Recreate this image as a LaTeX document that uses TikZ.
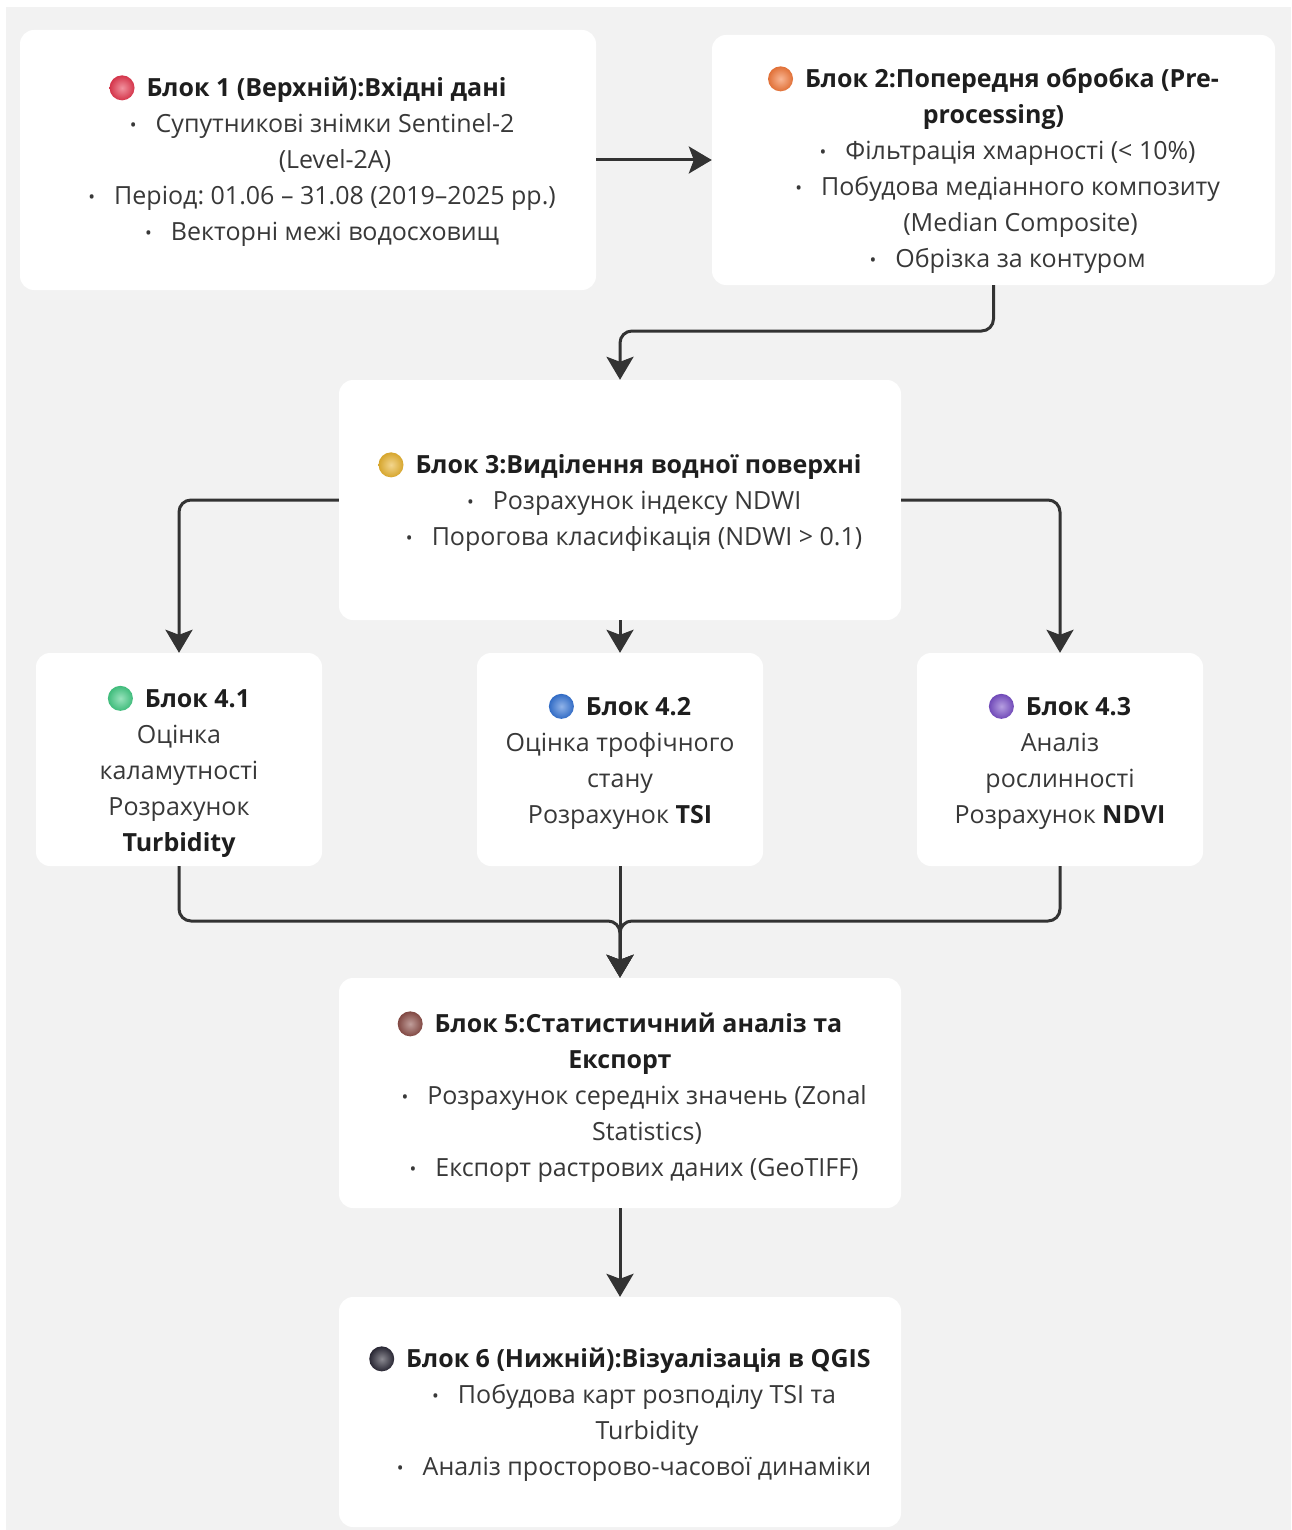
\documentclass[tikz,border=0pt]{standalone}
\usepackage{fontspec}
\setmainfont{Open Sans}
\usetikzlibrary{arrows.meta,calc}
\frenchspacing
\definecolor{bgc}{HTML}{F2F2F2}
\definecolor{txt}{HTML}{383838}
\definecolor{ttl}{HTML}{1E1E1E}
\definecolor{lnc}{HTML}{333333}
\definecolor{c1}{HTML}{E63950}
\definecolor{c2}{HTML}{F47A3C}
\definecolor{c3}{HTML}{E9B431}
\definecolor{c41}{HTML}{45CC86}
\definecolor{c42}{HTML}{3675D6}
\definecolor{c43}{HTML}{7A50C8}
\definecolor{c5}{HTML}{8C4E48}
\definecolor{c6}{HTML}{2C2A38}
\newcommand{\myball}[1]{\tikz[baseline=-8.8pt]\shade[inner color=#1!55!white, outer color=#1!92!black] (0,0) circle (12.5pt);\hspace{12pt}}
\newcommand{\bulmark}{{\fontsize{18}{36}\selectfont\raisebox{1.5pt}{•}}}
\newcommand{\li}[1]{\hspace*{54pt}\llap{\bulmark\hspace{19pt}}#1}
\newcommand{\lc}[1]{\hspace*{54pt}#1}
\newcommand{\ttlb}[1]{{\bfseries\color{ttl}#1}}
\begin{document}
\frenchspacing
\begin{tikzpicture}[x=1pt,y=-1pt,
  blk/.style={fill=white, rounded corners=14pt, inner sep=0pt},
  tx/.style={align=center, inner sep=0pt, font=\fontsize{25}{36}\selectfont\frenchspacing, text=txt},
  conn/.style={draw=lnc, line width=3pt, rounded corners=12pt,
    -{Stealth[length=23pt,width=27pt,inset=5pt]}},
]
\useasboundingbox (0,0) rectangle (1291,1530);
\fill[white] (0,0) rectangle (1291,1530);
\fill[bgc] (6,7) rectangle (1291,1530);

\node[blk, minimum width=576pt, minimum height=260pt] (b1) at (308,160) {};
\node[tx] (b1t) at ($(b1.center)+(0,1)$) {%
\myball{c1}\ttlb{Блок 1 (Верхній):Вхідні дані}\\
\li{Супутникові знімки Sentinel-2}\\
\lc{(Level-2A)}\\
\li{Період: 01.06 – 31.08 (2019–2025 рр.)}\\
\li{Векторні межі водосховищ}};

\node[blk, minimum width=563pt, minimum height=250pt] (b2) at (993.5,160) {};
\node[tx] (b2t) at ($(b2.center)+(0,10)$) {%
\myball{c2}\ttlb{Блок 2:Попередня обробка (Pre-}\\
\ttlb{processing)}\\
\li{Фільтрація хмарності (< 10\%)}\\
\li{Побудова медіанного композиту}\\
\lc{(Median Composite)}\\
\li{Обрізка за контуром}};

\node[blk, minimum width=562pt, minimum height=240pt] (b3) at (620,500) {};
\node[tx] (b3t) at ($(b3.center)+(0,2)$) {%
\myball{c3}\ttlb{Блок 3:Виділення водної поверхні}\\
\li{Розрахунок індексу NDWI}\\
\li{Порогова класифікація (NDWI > 0.1)}};

\node[blk, minimum width=286pt, minimum height=213pt] (b41) at (179,759.5) {};
\node[tx] (b41t) at ($(b41.center)+(0,12)$) {%
\myball{c41}\ttlb{Блок 4.1}\\
Оцінка\\
каламутності\\
Розрахунок\\
\ttlb{Turbidity}};

\node[blk, minimum width=286pt, minimum height=213pt] (b42) at (620,759.5) {};
\node[tx] (b42t) at ($(b42.center)+(0,2)$) {%
\myball{c42}\ttlb{Блок 4.2}\\
Оцінка трофічного\\
стану\\
Розрахунок \ttlb{TSI}};

\node[blk, minimum width=286pt, minimum height=213pt] (b43) at (1060,759.5) {};
\node[tx] (b43t) at ($(b43.center)+(0,2)$) {%
\myball{c43}\ttlb{Блок 4.3}\\
Аналіз\\
рослинності\\
Розрахунок \ttlb{NDVI}};

\node[blk, minimum width=562pt, minimum height=230pt] (b5) at (620,1093) {};
\node[tx] (b5t) at ($(b5.center)+(0,4)$) {%
\myball{c5}\ttlb{Блок 5:Статистичний аналіз та}\\
\ttlb{Експорт}\\
\li{Розрахунок середніх значень (Zonal}\\
\lc{Statistics)}\\
\li{Експорт растрових даних (GeoTIFF)}};

\node[blk, minimum width=562pt, minimum height=230pt] (b6) at (620,1412) {};
\node[tx] (b6t) at ($(b6.center)+(0,2)$) {%
\myball{c6}\ttlb{Блок 6 (Нижній):Візуалізація в QGIS}\\
\li{Побудова карт розподілу TSI та}\\
\lc{Turbidity}\\
\li{Аналіз просторово-часової динаміки}};

\coordinate (j23) at (620,331);
\coordinate (j5) at (620,921);

\draw[conn] (b1.east) -- (b2.west);
\draw[conn] (b2.south) |- (j23) -- (b3.north);
\draw[conn] (b3.west) -| (b41.north);
\draw[conn] (b3.east) -| (b43.north);
\draw[conn] (b3.south) -- (b42.north);
\draw[conn] (b41.south) |- (j5) -- (b5.north);
\draw[conn] (b43.south) |- (j5) -- (b5.north);
\draw[conn] (b42.south) -- (b5.north);
\draw[conn] (b5.south) -- (b6.north);
\end{tikzpicture}
\end{document}
